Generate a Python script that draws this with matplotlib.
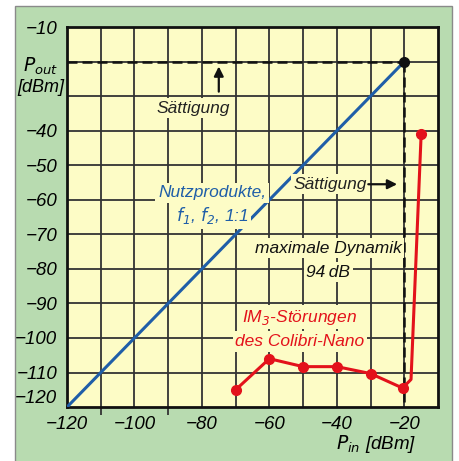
import matplotlib
matplotlib.use("Agg")
import matplotlib.pyplot as plt
from matplotlib.patches import Rectangle

plt.rcParams["font.family"] = ["Liberation Sans Narrow", "Liberation Sans", "DejaVu Sans"]
plt.rcParams["mathtext.fontset"] = "custom"
plt.rcParams["mathtext.it"] = "Liberation Sans Narrow:italic"
plt.rcParams["mathtext.rm"] = "Liberation Sans Narrow:italic"

# ---------------------------------------------------------------------------
# Data
# ---------------------------------------------------------------------------
# useful product line (1:1)
lin_x = [-120, -20]
lin_y = [-120, -20]
sat_point = (-20, -20)

# IM3 products of the Colibri-Nano
im3_x = [-70, -60, -50, -40, -30, -20.5, -18, -15]
im3_y = [-115, -106, -108.3, -108.3, -110.3, -114.5, -112, -41]
im3_marks = [0, 1, 2, 3, 4, 5, 7]

x_labels = [-120, -100, -80, -60, -40, -20]
y_labels = [-10, -40, -50, -60, -70, -80, -90, -100, -110, -120]

GREEN = "#b8dbb0"
YELLOW = "#fdfcc6"
BLUE = "#1f5ea8"
RED = "#e3121b"
GRID = "#333333"

fig = plt.figure(figsize=(4.6, 4.61), dpi=100)
fig.patch.set_facecolor("white")
fig.add_artist(Rectangle((0.033, -0.01), 0.949, 0.997, transform=fig.transFigure,
                         facecolor=GREEN, edgecolor="#8a8a8a", linewidth=1.0, zorder=-10))

ax = fig.add_axes([0.1457, 0.117, 0.8065, 0.8243])
ax.set_facecolor(YELLOW)
ax.set_xlim(-120, -10)
ax.set_ylim(-120, -10)

ax.set_xticks(x_labels)
ax.set_xticklabels([f"\u2212{abs(v)}" for v in x_labels])
ax.set_xticks([-110, -90], minor=True)
ax.set_yticks(y_labels)
ax.set_yticklabels([f"\u2212{abs(v)}" for v in y_labels])
ax.set_yticks([-40, -50, -60, -70], minor=True)
ax.tick_params(axis="both", which="major", length=0, labelsize=13.5)
ax.tick_params(axis="x", which="major", pad=6.5)
ax.tick_params(axis="y", which="major", pad=7)
ax.tick_params(axis="both", which="minor", length=6, width=1.3, color=GRID, direction="out")
for lab in ax.get_xticklabels() + ax.get_yticklabels():
    lab.set_fontstyle("italic")
ax.get_yticklabels()[-1].set_va("bottom")

for v in range(-110, -10, 10):
    ax.axvline(v, color=GRID, linewidth=1.3, zorder=1)
    ax.axhline(v, color=GRID, linewidth=1.3, zorder=1)
for s in ax.spines.values():
    s.set_linewidth(2.0)
    s.set_color("#111111")

# saturation markers
ax.plot([-120, -20], [-20, -20], color="#111111", linestyle=(0, (4, 2)), linewidth=1.8, zorder=3)
ax.plot([-20, -20], [-20, -120], color="#111111", linestyle=(0, (4, 2)), linewidth=1.8, zorder=3)

ax.plot(lin_x, lin_y, color=BLUE, linewidth=2.2, zorder=4)
ax.plot(*sat_point, "o", color="#111111", markersize=7, zorder=5)

ax.plot(im3_x, im3_y, color=RED, linewidth=2.2, marker="o", markersize=7,
        markevery=im3_marks, zorder=5)

box = dict(boxstyle="square,pad=0.15", facecolor=YELLOW, edgecolor="none")
tkw = dict(fontsize=12.5, fontstyle="italic", ha="center", va="center", zorder=6)

ax.text(-82.5, -33.5, "S\u00e4ttigung", color="#222222", bbox=box, **tkw)
ax.annotate("", xy=(-75, -20.6), xytext=(-75, -29.5),
            arrowprops=dict(arrowstyle="-|>", color="#111111", lw=1.6, mutation_scale=14),
            zorder=6)
ax.text(-42, -55.5, "S\u00e4ttigung", color="#222222", bbox=box, **tkw)
ax.annotate("", xy=(-21.3, -55.5), xytext=(-31.5, -55.5),
            arrowprops=dict(arrowstyle="-|>", color="#111111", lw=1.6, mutation_scale=14),
            zorder=6)

ax.text(-77, -58, "Nutzprodukte,", color=BLUE, bbox=box, **tkw)
ax.text(-77, -64.6, "$f_1$, $f_2$, 1:1", color=BLUE, bbox=box, **tkw)

ax.text(-42.5, -74, "maximale Dynamik", color="#111111", bbox=box, **tkw)
ax.text(-42.5, -81, "94\u2009dB", color="#111111", bbox=box, **tkw)

ax.text(-51, -94, "IM$_3$-St\u00f6rungen", color=RED, bbox=box, **tkw)
ax.text(-51, -101, "des Colibri-Nano", color=RED, bbox=box, **tkw)

fig.text(0.089, 0.857, "$P_{out}$", fontsize=13.5, ha="center", va="center")
fig.text(0.089, 0.81, "[dBm]", fontsize=13, fontstyle="italic", ha="center", va="center")
fig.text(0.817, 0.037, "$P_{in}$ [dBm]", fontsize=13.5, fontstyle="italic", ha="center", va="center")

fig.savefig("out.png", dpi=100, facecolor="white")
